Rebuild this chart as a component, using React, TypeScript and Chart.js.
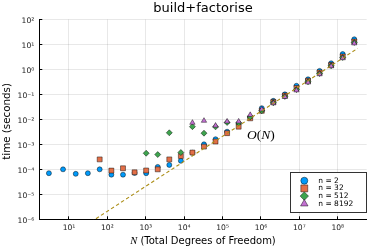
import React, { useEffect, useRef } from 'react';
import { Chart, registerables } from 'chart.js';
import { drawPoint } from 'chart.js/helpers';

Chart.register(...registerables);

const TITLE = 'build+factorise';
const Y_TITLE = 'time (seconds)';
const X_TITLE_SYMBOL = 'N';
const X_TITLE_REST = ' (Total Degrees of Freedom)';

// Total degrees of freedom (x values)
const N_ALL = [
  3, 7, 15, 31, 63, 127, 255, 511, 1023, 2047, 4095, 8191, 16383, 32767, 65535,
  131071, 262143, 524287, 1048575, 2097151, 4194303, 8388607, 16777215,
  33554431, 67108863, 134217727, 268435455,
];
const N_N2 = N_ALL;
const N_N32 = N_ALL.slice(4);
const N_N512 = N_ALL.slice(8);
const N_N8192 = N_ALL.slice(12);

// times in seconds
const T_N2 = [
  7e-5, 1e-4, 6.6e-5, 7e-5, 1e-4, 6.1e-5, 6.1e-5, 7.2e-5, 7e-5, 1.25e-4, 1.5e-4,
  2.2e-4, 4.6e-4, 1e-3, 1.6e-3, 3.2e-3, 6.6e-3, 1.2e-2, 2.8e-2, 0.055, 0.1, 0.22,
  0.4, 0.87, 1.75, 4.1, 16,
];
const T_N32 = [
  2.5e-4, 8.9e-5, 1.1e-4, 7.6e-5, 9e-5, 1e-4, 2.5e-4, 3.4e-4, 4.7e-4, 8.1e-4,
  1.3e-3, 2.8e-3, 5.1e-3, 1.1e-2, 2.2e-2, 0.05, 0.09, 0.18, 0.35, 0.75, 1.5, 3.3, 13,
];
const T_N512 = [
  4.4e-4, 3.9e-4, 2.9e-3, 4.7e-4, 5.1e-3, 2.8e-3, 5e-3, 7.5e-3, 7.2e-3, 1.25e-2,
  2.2e-2, 0.046, 0.083, 0.155, 0.32, 0.68, 1.4, 3.0, 12,
];
const T_N8192 = [
  7.3e-3, 8.8e-3, 5.6e-3, 8.2e-3, 8.2e-3, 1.5e-2, 2.5e-2, 0.044, 0.079, 0.145,
  0.3, 0.64, 1.33, 2.8, 11,
];

// O(N) reference line end points
const REF_N = [1, 3.3e8];
const REF_T = [2.1e-8, 6.93];
const REF_LABEL = 'O(N)';
const REF_LABEL_N = 1e6;
const REF_LABEL_T = 2.3e-3;

const SERIES_LABELS = ['n = 2', 'n = 32', 'n = 512', 'n = 8192'];

const X_TICKS = [1e1, 1e2, 1e3, 1e4, 1e5, 1e6, 1e7, 1e8];
const X_TICK_LABELS = ['10¹', '10²', '10³', '10⁴', '10⁵', '10⁶', '10⁷', '10⁸'];
const Y_TICKS = [1e-6, 1e-5, 1e-4, 1e-3, 1e-2, 1e-1, 1e0, 1e1, 1e2];
const Y_TICK_LABELS = ['10⁻⁶', '10⁻⁵', '10⁻⁴', '10⁻³', '10⁻²', '10⁻¹', '10⁰', '10¹', '10²'];

const SANS = '"DejaVu Sans", sans-serif';
const SERIF = '"Liberation Serif", "DejaVu Serif", serif';

const pts = (xs: number[], ys: number[]) => xs.map((x, i) => ({ x, y: ys[i] }));

const decor = {
  id: 'decor',
  afterDraw(chart: any) {
    const { ctx, chartArea: a, scales } = chart;
    const xs = scales.x;
    const ys = scales.y;
    ctx.save();
    // inward tick marks
    ctx.strokeStyle = '#000';
    ctx.lineWidth = 1;
    ctx.beginPath();
    X_TICKS.forEach((v) => {
      const px = Math.round(xs.getPixelForValue(v) - 0.5) + 0.5;
      ctx.moveTo(px, a.bottom);
      ctx.lineTo(px, a.bottom - 3);
    });
    Y_TICKS.forEach((v) => {
      const py = Math.round(ys.getPixelForValue(v) - 0.5) + 0.5;
      ctx.moveTo(a.left, py);
      ctx.lineTo(a.left + 3, py);
    });
    ctx.stroke();

    // title
    ctx.fillStyle = '#000';
    ctx.font = `13px ${SANS}`;
    ctx.textAlign = 'center';
    ctx.textBaseline = 'alphabetic';
    ctx.fillText(TITLE, (a.left + a.right) / 2, 11.7);

    // y title
    ctx.save();
    ctx.translate(7.5, (a.top + a.bottom) / 2 + 2);
    ctx.rotate(-Math.PI / 2);
    ctx.font = `10.3px ${SANS}`;
    ctx.textAlign = 'center';
    ctx.textBaseline = 'middle';
    ctx.fillText(Y_TITLE, 0, 0);
    ctx.restore();

    // x title
    ctx.textAlign = 'left';
    ctx.textBaseline = 'alphabetic';
    ctx.font = `italic 10.5px ${SERIF}`;
    const wN = ctx.measureText(X_TITLE_SYMBOL).width;
    ctx.font = `10px ${SANS}`;
    const wR = ctx.measureText(X_TITLE_REST).width;
    const sx = (a.left + a.right) / 2 - (wN + wR) / 2;
    ctx.font = `italic 10.5px ${SERIF}`;
    ctx.fillText(X_TITLE_SYMBOL, sx, 244.3);
    ctx.font = `10px ${SANS}`;
    ctx.fillText(X_TITLE_REST, sx + wN, 244.3);

    // O(N) annotation
    const parts = [
      { t: REF_LABEL[0], it: true },
      { t: REF_LABEL[1], it: false },
      { t: REF_LABEL[2], it: true },
      { t: REF_LABEL[3], it: false },
    ];
    const fontFor = (it: boolean) => `${it ? 'italic ' : ''}13.5px ${SERIF}`;
    let total = 0;
    parts.forEach((p) => {
      ctx.font = fontFor(p.it);
      total += ctx.measureText(p.t).width;
    });
    let ax = xs.getPixelForValue(REF_LABEL_N) - total / 2;
    const ay = ys.getPixelForValue(REF_LABEL_T);
    ctx.textBaseline = 'middle';
    ctx.fillStyle = '#000';
    parts.forEach((p) => {
      ctx.font = fontFor(p.it);
      ctx.fillText(p.t, ax, ay);
      ax += ctx.measureText(p.t).width;
    });

    // legend
    const lw = 75.7;
    const lh = 40;
    const lx = a.right - 1 - lw;
    const ly = a.bottom - 7 - lh;
    ctx.fillStyle = '#fff';
    ctx.fillRect(lx, ly, lw, lh);
    ctx.strokeStyle = '#333';
    ctx.lineWidth = 1;
    ctx.strokeRect(Math.round(lx) + 0.5, Math.round(ly) + 0.5, Math.round(lw), Math.round(lh));
    chart.data.datasets.slice(0, 4).forEach((ds: any, i: number) => {
      const y = ly + 8.4 + i * 7.7;
      ctx.fillStyle = ds.pointBackgroundColor;
      ctx.strokeStyle = ds.pointBorderColor;
      ctx.lineWidth = ds.pointBorderWidth;
      drawPoint(
        ctx,
        { pointStyle: ds.pointStyle, radius: ds.pointRadius * 1.4, rotation: 0, borderWidth: ds.pointBorderWidth },
        lx + 14.3,
        y,
      );
      ctx.fillStyle = '#000';
      ctx.font = `7.5px ${SANS}`;
      ctx.textAlign = 'left';
      ctx.textBaseline = 'middle';
      ctx.fillText(ds.label, lx + 28.3, y);
    });
    ctx.restore();
  },
};

const BORDER = 'rgba(0,0,0,0.75)';

export default function App() {
  const ref = useRef<HTMLCanvasElement | null>(null);
  useEffect(() => {
    if (!ref.current) return;
    const mk = (label: string, xs: number[], ys: number[], color: string, style: string, r: number, order: number) => ({
      label,
      data: pts(xs, ys),
      pointStyle: style,
      pointRadius: r,
      pointBackgroundColor: color,
      pointBorderColor: BORDER,
      pointBorderWidth: 0.6,
      backgroundColor: color,
      borderColor: BORDER,
      showLine: false,
      order,
    });
    const chart = new Chart(ref.current, {
      type: 'scatter',
      data: {
        datasets: [
          mk(SERIES_LABELS[0], N_N2, T_N2, '#009AFA', 'circle', 2.5, 4),
          mk(SERIES_LABELS[1], N_N32, T_N32, '#E36F47', 'rect', 3.5, 3),
          mk(SERIES_LABELS[2], N_N512, T_N512, '#3EA44E', 'rectRot', 3.0, 2),
          mk(SERIES_LABELS[3], N_N8192, T_N8192, '#C371D2', 'triangle', 3.1, 1),
          {
            label: 'O(N)',
            data: pts(REF_N, REF_T),
            showLine: true,
            borderColor: '#AC8E18',
            borderWidth: 1.1,
            borderDash: [3.5, 2.5],
            pointRadius: 0,
            fill: false,
            order: 0,
          } as any,
        ],
      },
      options: {
        responsive: false,
        animation: false,
        devicePixelRatio: 1,
        events: [],
        layout: { padding: { left: 0, right: 7.3, top: 19.4, bottom: 0 } },
        plugins: { legend: { display: false }, title: { display: false }, tooltip: { enabled: false } },
        scales: {
          x: {
            type: 'logarithmic',
            min: 1.687,
            max: 5.66e8,
            afterBuildTicks: (s: any) => {
              s.ticks = X_TICKS.map((v) => ({ value: v }));
            },
            afterFit: (s: any) => {
              s.height = 29.7;
            },
            ticks: {
              autoSkip: false,
              maxRotation: 0,
              padding: 4.5,
              color: '#1a1a1a',
              font: { family: SANS, size: 7.6 },
              callback: (_v: any, i: number) => X_TICK_LABELS[i],
            },
            grid: { color: 'rgba(0,0,0,0.09)', lineWidth: 1, drawTicks: false },
            border: { display: true, color: '#000', width: 1 },
          },
          y: {
            type: 'logarithmic',
            min: 1e-6,
            max: 1e2,
            afterBuildTicks: (s: any) => {
              s.ticks = Y_TICKS.map((v) => ({ value: v }));
            },
            afterFit: (s: any) => {
              s.width = 39.3;
            },
            ticks: {
              autoSkip: false,
              padding: 5,
              labelOffset: 1.5,
              color: '#1a1a1a',
              font: { family: SANS, size: 7.6 },
              callback: (_v: any, i: number) => Y_TICK_LABELS[i],
            },
            grid: { color: 'rgba(0,0,0,0.09)', lineWidth: 1, drawTicks: false },
            border: { display: true, color: '#000', width: 1 },
          },
        },
      } as any,
      plugins: [decor],
    });
    return () => chart.destroy();
  }, []);
  return (
    <div style={{ position: 'fixed', left: 0, top: 0, width: 374, height: 249, background: '#fff' }}>
      <canvas ref={ref} width={374} height={249} style={{ display: 'block' }} />
    </div>
  );
}
